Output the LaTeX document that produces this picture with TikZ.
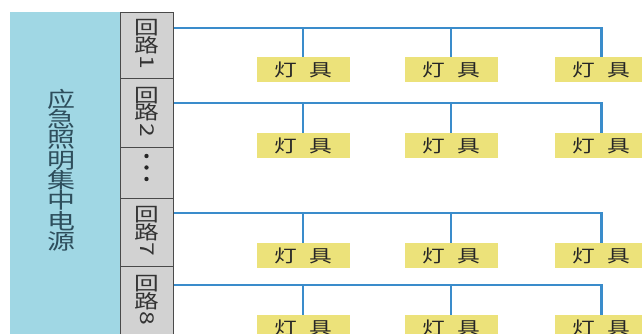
\documentclass[tikz,border=0pt]{standalone}
\usepackage{fontspec}
\usepackage{graphicx}
\newfontfamily\cjk{Noto Sans CJK SC}
\newfontfamily\cjkwide[FakeStretch=1.3]{Noto Sans CJK SC}
\definecolor{srccyan}{HTML}{A0D7E4}
\definecolor{cgrey}{HTML}{D2D2D2}
\definecolor{cborder}{HTML}{4A4A4A}
\definecolor{busblue}{HTML}{3A8CCB}
\definecolor{lampyel}{HTML}{ECE27A}
\definecolor{srctext}{HTML}{2E4E5C}
\begin{document}
\begin{tikzpicture}[x=1pt,y=-1pt,
  srcbox/.style={fill=srccyan,draw=none,minimum width=110pt,minimum height=330pt,anchor=north west,inner sep=0pt},
  circ/.style={fill=cgrey,draw=cborder,line width=1pt,minimum width=53pt,anchor=north west,inner sep=0pt},
  circtext/.style={font=\cjkwide\fontsize{19}{17.5}\selectfont,align=center,text=black!80,inner sep=0pt},
  lamp/.style={fill=lampyel,draw=none,minimum width=93pt,minimum height=25pt,anchor=north,inner sep=0pt,
    font=\cjkwide\fontsize{17.5}{18}\selectfont,text=black!85},
  bus/.style={draw=busblue,line width=2.6pt}
]
\useasboundingbox (0,0) rectangle (642,334);
\clip (0,0) rectangle (642,334);
\fill[white] (0,0) rectangle (642,334);
\node[srcbox] (src) at (10,12) {};
\node[font=\cjkwide\fontsize{21.5}{20.3}\selectfont,text=srctext,align=center] (srct) at (61,170)
  {应\\急\\照\\明\\集\\中\\电\\源};
\node[circ,minimum height=66pt] (c1) at (120,12) {};
\node[circ,minimum height=69pt] (c2) at (120,78) {};
\node[circ,minimum height=51pt] (cd) at (120,147) {};
\node[circ,minimum height=68pt] (c7) at (120,198) {};
\node[circ,minimum height=70pt] (c8) at (120,266) {};
\foreach \n in {1,2,7,8}
  \node[circtext] (t\n) at ([yshift=1pt]c\n.center) {回\\路\\\rotatebox[origin=c]{-90}{\n}};
\foreach \yy in {156,167.5,179} \fill[black!85] (146.5,\yy) circle (2.2pt);
% buses and lamps
\foreach \r/\by/\ly in {1/28/57, 2/103/133, 7/213/243, 8/285/315}{
  \node[lamp] (l\r a) at (303,\ly) {灯\hspace{0.7em}具};
  \node[lamp] (l\r b) at (451,\ly) {灯\hspace{0.7em}具};
  \node[lamp] (l\r c) at (601.5,\ly) {灯\hspace{0.7em}具};
  \coordinate (b\r) at (601.5,\by);
}
\foreach \r in {1,2,7,8}{
  \draw[bus] (c\r.east |- b\r) -- (b\r) -- (l\r c.north);
  \draw[bus] (l\r a.north |- b\r) -- (l\r a.north);
  \draw[bus] (l\r b.north |- b\r) -- (l\r b.north);
}
\end{tikzpicture}
\end{document}
